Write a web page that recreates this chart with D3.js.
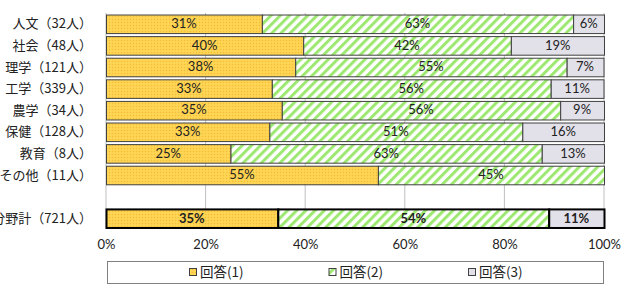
<!DOCTYPE html>
<html>
<head>
<meta charset="utf-8">
<script src="https://cdn.jsdelivr.net/npm/d3@7/dist/d3.min.js"></script>
<style>
body { margin: 0; background: #fff; }
</style>
</head>
<body>
<div id="chart-area"></div>
<script>
// data (percent)
var categories = ["人文（32人）", "社会（48人）", "理学（121人）", "工学（339人）", "農学（34人）",
  "保健（128人）", "教育（8人）", "その他（11人）", "", "全分野計（721人）"]
var answer1 = [31.3, 39.6, 38.0, 33.3, 35.3, 32.8, 25.0, 54.6, null, 34.5]
var answer2 = [62.5, 41.7, 54.5, 56.0, 55.9, 50.8, 62.5, 45.4, null, 54.4]
var answer3 = [6.3, 18.8, 7.4, 10.6, 8.8, 16.4, 12.5, 0, null, 11.1]
var seriesNames = ["回答(1)", "回答(2)", "回答(3)"]
var ticks = [0, 20, 40, 60, 80, 100]

var width = 621
var height = 284
var margin = {top: 13, right: 17, bottom: 55, left: 106}
var innerW = width - margin.left - margin.right
var innerH = height - margin.top - margin.bottom

var svg = d3.select("#chart-area").append("svg")
  .attr("width", width)
  .attr("height", height)

// patterns
var defs = svg.append("defs")
var dots = defs.append("pattern")
  .attr("id", "pat1").attr("patternUnits", "userSpaceOnUse")
  .attr("width", 3).attr("height", 3)
dots.append("rect").attr("width", 3).attr("height", 3).attr("fill", "#FFD24D")
dots.append("rect").attr("x", 0).attr("y", 0).attr("width", 1).attr("height", 1).attr("fill", "#F0BC3A")
dots.append("rect").attr("x", 1.5).attr("y", 1.5).attr("width", 1).attr("height", 1).attr("fill", "#FFE07A")

var stripes = defs.append("pattern")
  .attr("id", "pat2").attr("patternUnits", "userSpaceOnUse")
  .attr("width", 6.5).attr("height", 6.5)
  .attr("patternTransform", "rotate(45)")
stripes.append("rect").attr("width", 6.5).attr("height", 6.5).attr("fill", "#fff")
stripes.append("rect").attr("width", 3).attr("height", 6.5).attr("fill", "#9DE870")

var fills = ["url(#pat1)", "url(#pat2)", "#E2E0E9"]

var g = svg.append("g")
  .attr("transform", "translate(" + margin.left + "," + margin.top + ")")

var x = d3.scaleLinear().domain([0, 100]).range([0, innerW])
var y = d3.scaleBand().domain(d3.range(categories.length)).range([0, innerH])
  .paddingInner(0.14).paddingOuter(0.07)

// gridlines
g.selectAll(".grid").data(ticks).enter().append("line")
  .attr("class", "grid")
  .attr("x1", d => x(d)).attr("x2", d => x(d))
  .attr("y1", 0).attr("y2", innerH)
  .attr("stroke", "#BFBFBF").attr("stroke-width", 1)

// x axis
var xAxis = d3.axisBottom(x).tickValues(ticks).tickFormat(d => d + "%").tickSize(0).tickPadding(11)
var xAxisGroup = g.append("g")
  .attr("transform", "translate(0," + innerH + ")")
  .call(xAxis)
xAxisGroup.select(".domain").remove()
xAxisGroup.selectAll("text")
  .attr("font-family", "Lato, 'Open Sans', sans-serif")
  .attr("font-size", "13px")
  .attr("fill", "#222")

// stacked rows
var rows = categories.map((c, i) => ({
  i: i, total: i == categories.length - 1,
  vals: [answer1[i], answer2[i], answer3[i]]
})).filter(d => d.vals[0] != null)

var segs = []
rows.forEach(r => {
  var x0 = 0
  r.vals.forEach((v, k) => {
    segs.push({i: r.i, k: k, x0: x0, v: v, total: r.total})
    x0 += v
  })
})

g.selectAll(".seg").data(segs.filter(d => d.v > 0)).enter().append("rect")
  .attr("class", "seg")
  .attr("x", d => x(d.x0) + 0.5)
  .attr("y", d => y(d.i) + 0.5)
  .attr("width", d => x(Math.min(d.x0 + d.v, 100)) - x(d.x0))
  .attr("height", y.bandwidth())
  .attr("fill", d => fills[d.k])
  .attr("stroke", d => d.total ? "#000" : "#404040")
  .attr("stroke-width", d => d.total ? 2 : 1)

g.selectAll(".lbl").data(segs.filter(d => d.v > 0)).enter().append("text")
  .attr("class", "lbl")
  .attr("x", d => x(d.x0 + d.v / 2))
  .attr("y", d => y(d.i) + y.bandwidth() / 2 + 1)
  .attr("text-anchor", "middle")
  .attr("dominant-baseline", "middle")
  .attr("font-family", "Lato, 'Open Sans', sans-serif")
  .attr("font-size", "13px")
  .attr("font-weight", d => d.total ? "bold" : "normal")
  .attr("fill", "#222")
  .text(d => Math.round(d.v) + "%")

// category labels (the total label runs off the left edge, as in the original)
g.selectAll(".cat").data(categories).enter().append("text")
  .attr("class", "cat")
  .attr("x", -14)
  .attr("y", (d, i) => y(i) + y.bandwidth() / 2 + 1)
  .attr("text-anchor", "end")
  .attr("dominant-baseline", "middle")
  .attr("font-family", "'Noto Sans CJK JP', sans-serif")
  .attr("font-size", "13px")
  .attr("fill", "#222")
  .text(d => d)

// legend
var legend = svg.append("g").attr("transform", "translate(107,261)")
legend.append("rect")
  .attr("x", 0.5).attr("y", 0.5).attr("width", 496).attr("height", 22)
  .attr("fill", "#fff").attr("stroke", "#808080")

var items = legend.selectAll(".item").data(seriesNames).enter().append("g")
  .attr("class", "item")
  .attr("transform", (d, i) => "translate(" + (82 + i * 139.5) + ",11)")
items.append("rect")
  .attr("x", 0.5).attr("y", -3.5).attr("width", 7).attr("height", 7)
  .attr("fill", (d, i) => fills[i]).attr("stroke", "#404040")
items.append("text")
  .attr("x", 11).attr("y", 1)
  .attr("dominant-baseline", "middle")
  .attr("font-family", "'Noto Sans CJK JP', sans-serif")
  .attr("font-size", "13.5px")
  .attr("fill", "#222")
  .text(d => d)
</script>
</body>
</html>
